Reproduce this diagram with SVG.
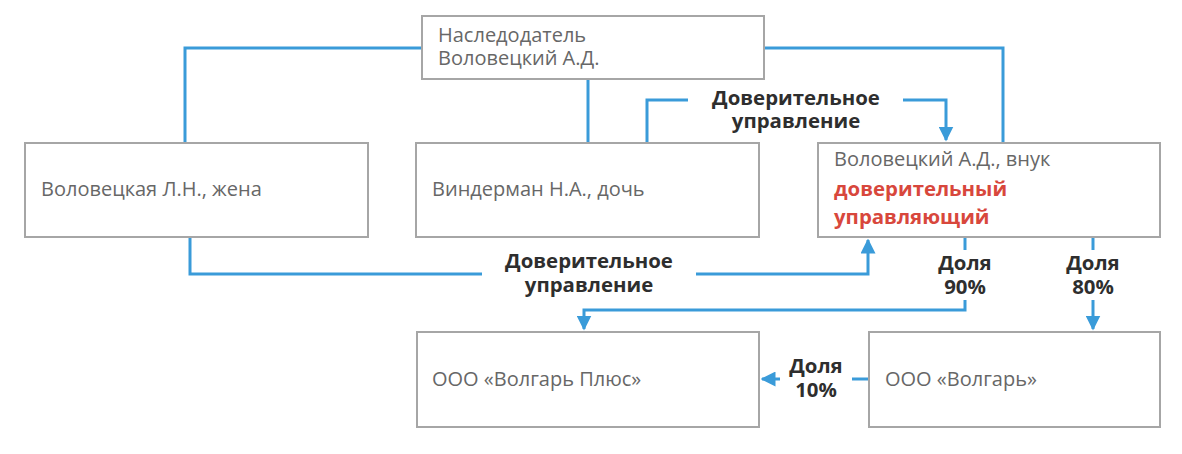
<svg xmlns="http://www.w3.org/2000/svg" width="1182" height="454" viewBox="0 0 1182 454">
<style>
.box{fill:#fff;stroke:#a6a6a6;stroke-width:2}
.t{font-family:"Open Sans","Liberation Sans",sans-serif;font-size:20px;fill:#676767}
.r{font-family:"Open Sans","Liberation Sans",sans-serif;font-size:20.4px;font-weight:700;fill:#d8473c}
.b{font-family:"Open Sans","Liberation Sans",sans-serif;font-size:20.4px;font-weight:700;fill:#2e2e2e;text-anchor:middle}
.c{fill:none;stroke:#3a9bd9;stroke-width:3}
.ah{fill:#3a9bd9}
</style>
<defs>
<marker id="arr" viewBox="0 0 10 10" refX="9" refY="5" markerWidth="5" markerHeight="5" markerUnits="strokeWidth" orient="auto">
<path class="ah" d="M0,0 L10,5 L0,10 Z"/>
</marker>
</defs>
<rect width="1182" height="454" fill="#fff"/>
<g id="connectors">
<path class="c" d="M422,48 H185 V143"/>
<path class="c" d="M764,48 H1003 V143"/>
<path class="c" d="M588,79 V143"/>
<path class="c" d="M647,142 V100 H688"/>
<path class="c" d="M903,100 H946 V140" marker-end="url(#arr)"/>
<path class="c" d="M190,237 V274 H482"/>
<path class="c" d="M696,274 H868 V240" marker-end="url(#arr)"/>
<path class="c" d="M965,237 V250"/>
<path class="c" d="M965,300 V310 H584 V329" marker-end="url(#arr)"/>
<path class="c" d="M1093,237 V250"/>
<path class="c" d="M1093,300 V329" marker-end="url(#arr)"/>
<path class="c" d="M869,379 H852"/>
<path class="c" d="M780,379 H762" marker-end="url(#arr)"/>
</g>
<g id="labels">
<text class="b" x="796" y="105">Доверительное</text>
<text class="b" x="796" y="128">управление</text>
<text class="b" x="589" y="268">Доверительное</text>
<text class="b" x="589" y="292">управление</text>
<text class="b" x="965" y="270">Доля</text>
<text class="b" x="965" y="294">90%</text>
<text class="b" x="1093" y="270">Доля</text>
<text class="b" x="1093" y="294">80%</text>
<text class="b" x="816" y="373">Доля</text>
<text class="b" x="816" y="397">10%</text>
</g>
<g id="node-testator">
<rect class="box" x="422" y="16" width="342" height="63"/>
<text class="t" x="438" y="42">Наследодатель</text>
<text class="t" x="438" y="65">Воловецкий А.Д.</text>
</g>
<g id="node-wife">
<rect class="box" x="25" y="143" width="343" height="94"/>
<text class="t" x="41" y="196">Воловецкая Л.Н., жена</text>
</g>
<g id="node-daughter">
<rect class="box" x="416" y="143" width="343" height="94"/>
<text class="t" x="432" y="196">Виндерман Н.А., дочь</text>
</g>
<g id="node-grandson">
<rect class="box" x="818" y="143" width="342" height="94"/>
<text class="t" x="834" y="166">Воловецкий А.Д., внук</text>
<text class="r" x="834" y="196">доверительный</text>
<text class="r" x="834" y="224">управляющий</text>
</g>
<g id="node-volgar-plus">
<rect class="box" x="417" y="332" width="342" height="95"/>
<text class="t" x="432" y="386">ООО «Волгарь Плюс»</text>
</g>
<g id="node-volgar">
<rect class="box" x="869" y="332" width="291" height="95"/>
<text class="t" x="885" y="386">ООО «Волгарь»</text>
</g>
</svg>
